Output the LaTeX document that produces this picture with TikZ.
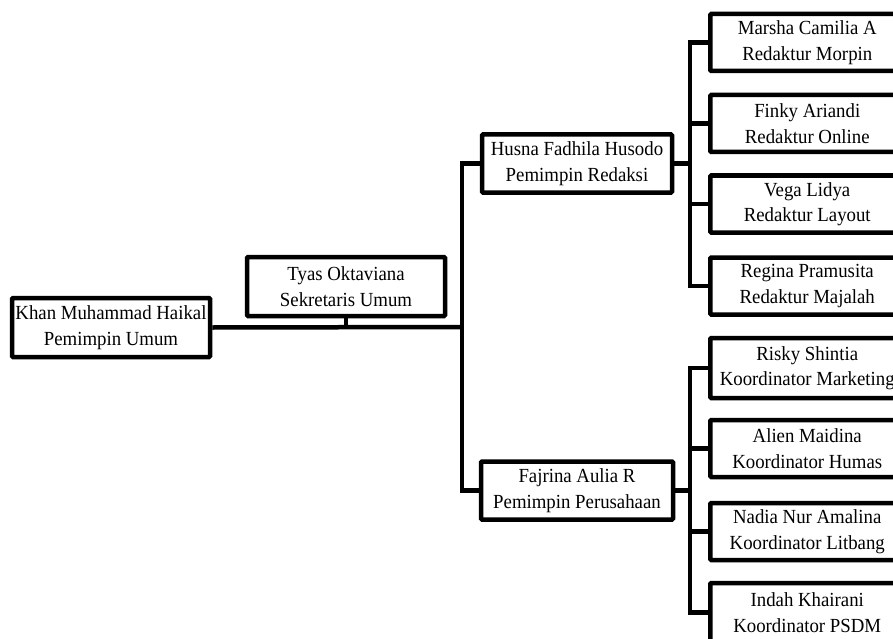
\documentclass[tikz,border=0pt]{standalone}
\usepackage{fontspec}
\setmainfont{Liberation Serif}[FakeStretch=0.94]
\begin{document}
\begin{tikzpicture}[x=1pt,y=-1pt,
  line width=4.5pt,
  box/.style={draw, fill=white, line width=4.5pt, rounded corners=1pt, align=center,
    inner sep=0pt, font=\fontsize{20}{25.5}\selectfont},
  leftbox/.style={box, minimum width=198, minimum height=59},
  midbox/.style={box, minimum width=190, minimum height=58},
  rbox/.style={box, minimum width=194, minimum height=57, anchor=west}]
\useasboundingbox (0,0) rectangle (893,639);
\clip (0,0) rectangle (893,639);
% coordinates
\coordinate (tL) at (462,327);
\coordinate (tR1) at (690,163.5);
\coordinate (tR2) at (690,490.5);
% nodes
\node[leftbox] (khan) at (111,327.5) {Khan Muhammad Haikal\\Pemimpin Umum};
\node[leftbox] (tyas) at (346,286.5) {Tyas Oktaviana\\Sekretaris Umum};
\node[midbox] (husna) at (577,163.5) {Husna Fadhila Husodo\\Pemimpin Redaksi};
\node[midbox, minimum width=192] (fajrina) at (577,490.5) {Fajrina Aulia R\\Pemimpin Perusahaan};
\node[rbox] (marsha) at (708,42.5) {Marsha Camilia A\\Redaktur Morpin};
\node[rbox] (finky) at (708,123.5) {Finky Ariandi\\Redaktur Online};
\node[rbox] (vega) at (708,204) {Vega Lidya\\Redaktur Layout};
\node[rbox] (regina) at (708,286) {Regina Pramusita\\Redaktur Majalah};
\node[rbox, minimum height=60] (risky) at (708,368) {Risky Shintia\\Koordinator Marketing};
\node[rbox] (alien) at (708,448.5) {Alien Maidina\\Koordinator Humas};
\node[rbox] (nadia) at (708,531.5) {Nadia Nur Amalina\\Koordinator Litbang};
\node[rbox, minimum height=59] (indah) at (708,612.5) {Indah Khairani\\Koordinator PSDM};
% connectors
\draw (khan.east) -- (tL);
\draw (tyas.south) -- (tyas.south |- tL);
\draw (husna.west) -| (tL) |- (fajrina.west);
\draw (husna.east) -- (tR1);
\draw (marsha.west) -| (tR1) |- (regina.west);
\draw (finky.west) -- (finky.west -| tR1);
\draw (vega.west) -- (vega.west -| tR1);
\draw (fajrina.east) -- (tR2);
\draw (risky.west) -| (tR2) |- (indah.west);
\draw (alien.west) -- (alien.west -| tR2);
\draw (nadia.west) -- (nadia.west -| tR2);
\end{tikzpicture}
\end{document}
